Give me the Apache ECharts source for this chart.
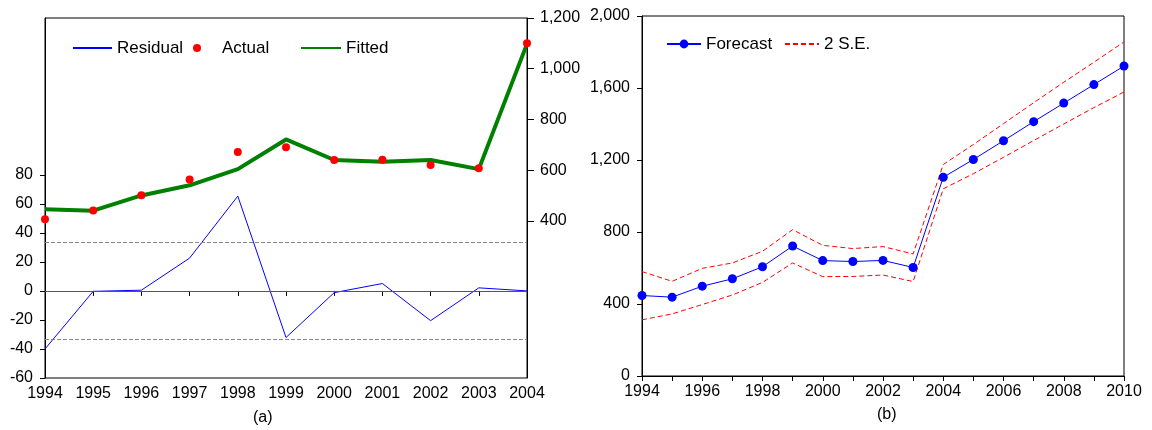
<!DOCTYPE html>
<html>

<head>
	<meta charset="utf-8">
	<title>Residual / Forecast</title>
	<script src="https://cdn.jsdelivr.net/npm/echarts@6/dist/echarts.min.js"></script>
	<style>
		html, body { margin: 0; padding: 0; background: #fff; }
		#main { width: 1152px; height: 430px; }
	</style>
</head>

<body>
	<div id="main"></div>
	<script>
		// (a) 拟合与残差
		var yearsA = ['1994', '1995', '1996', '1997', '1998', '1999', '2000', '2001', '2002', '2003', '2004'];
		var residual = [-40, -0.3, 0.5, 22.6, 65.3, -32.1, -1.2, 5.1, -20.5, 2.1, 0];
		var actual = [406, 441, 501, 563, 671, 690, 640, 641, 620, 607, 1100];
		var fitted = [446, 440, 500, 540, 604, 721, 640, 633, 640, 604, 1098];
		var seBand = 33.5;
		var residTicks = [-60, -40, -20, 0, 20, 40, 60, 80];
		var levelTicks = [400, 600, 800, 1000, 1200];

		// (b) 预测
		var yearsB = ['1994', '1995', '1996', '1997', '1998', '1999', '2000', '2001', '2002',
			'2003', '2004', '2005', '2006', '2007', '2008', '2009', '2010'];
		var forecast = [447, 438, 499, 540, 607, 722, 641, 636, 642, 603, 1104, 1203, 1307, 1413, 1516, 1619, 1722];
		var upper = [580, 526, 598, 628, 693, 813, 726, 708, 719, 678, 1175, 1286, 1402, 1518, 1632, 1743, 1856];
		var lower = [312, 345, 397, 450, 520, 628, 552, 553, 561, 525, 1040, 1124, 1215, 1308, 1400, 1491, 1578];

		var FONT = 'Liberation Sans';
		var axisColor = '#000';
		var legendText = { fontSize: 17, lineHeight: 18, fontFamily: FONT, color: '#000' };

		function comma(v) {
			return Number(v).toLocaleString('en-US');
		}

		var myChart = echarts.init(document.getElementById('main'));
		var option = {
			animation: false,
			textStyle: { fontFamily: FONT, color: '#000' },
			title: [
				{ text: '(a)', left: 253, top: 410, padding: 0, textStyle: { fontSize: 16, fontWeight: 'normal', color: '#000', fontFamily: FONT } },
				{ text: '(b)', left: 877, top: 407, padding: 0, textStyle: { fontSize: 16, fontWeight: 'normal', color: '#000', fontFamily: FONT } }
			],
			// 只画线的图例把圆点隐藏
			legend: [
				{ data: ['Residual'], left: 72, top: 39, padding: 0, itemWidth: 39, itemHeight: 14, itemStyle: { opacity: 0 }, textStyle: legendText },
				{ data: [{ name: 'Actual', icon: 'circle' }], left: 193, top: 39, padding: 0, itemWidth: 40, itemHeight: 8, textStyle: legendText },
				{ data: ['Fitted'], left: 300, top: 39, padding: 0, itemWidth: 40, itemHeight: 14, itemStyle: { opacity: 0 }, textStyle: legendText },
				{ data: ['Forecast'], left: 666, top: 35, padding: 0, itemWidth: 34, itemHeight: 11, textStyle: legendText },
				{ data: ['2 S.E.'], left: 784, top: 35, padding: 0, itemWidth: 34, itemHeight: 14, itemStyle: { opacity: 0 }, textStyle: legendText }
			],
			grid: [
				{ left: 45, top: 18, right: 625, bottom: 52, show: true, borderColor: axisColor, borderWidth: 1 },
				{ left: 642, top: 16, right: 28, bottom: 54, show: true, borderColor: axisColor, borderWidth: 1 }
			],
			xAxis: [{
				gridIndex: 0,
				type: 'category',
				boundaryGap: false,
				data: yearsA,
				axisLine: { lineStyle: { color: axisColor } },
				axisTick: { interval: 0, length: 5, lineStyle: { color: axisColor } },
				axisLabel: { interval: 0, margin: 8, fontSize: 16, color: '#000' }
			}, {
				gridIndex: 1,
				type: 'category',
				boundaryGap: false,
				data: yearsB,
				axisLine: { lineStyle: { color: axisColor } },
				axisTick: { interval: 0, length: 5, lineStyle: { color: axisColor } },
				axisLabel: { interval: 1, margin: 8, fontSize: 16, color: '#000' }
			}],
			yAxis: [{
				gridIndex: 0,
				type: 'value',
				min: -60,
				max: 188,
				splitLine: { show: false },
				axisLine: { show: true, lineStyle: { color: axisColor } },
				axisTick: { show: true, length: 5, customValues: residTicks, lineStyle: { color: axisColor } },
				axisLabel: { margin: 12, fontSize: 16, color: '#000', customValues: residTicks }
			}, {
				gridIndex: 0,
				type: 'value',
				position: 'right',
				min: -220,
				max: 1200,
				splitLine: { show: false },
				axisLine: { show: true, lineStyle: { color: axisColor } },
				axisTick: { show: true, length: 7, customValues: levelTicks, lineStyle: { color: axisColor } },
				axisLabel: { margin: 13, fontSize: 16, color: '#000', customValues: levelTicks, formatter: comma }
			}, {
				gridIndex: 1,
				type: 'value',
				min: 0,
				max: 2000,
				interval: 400,
				splitLine: { show: false },
				axisLine: { show: true, lineStyle: { color: axisColor } },
				axisTick: { show: true, length: 5, lineStyle: { color: axisColor } },
				axisLabel: { margin: 12, fontSize: 16, color: '#000', formatter: comma }
			}],
			series: [{
				name: 'Residual',
				type: 'line',
				xAxisIndex: 0,
				yAxisIndex: 0,
				data: residual,
				symbol: 'none',
				color: '#0000ff',
				lineStyle: { width: 1, color: '#0000ff' },
				markLine: {
					silent: true,
					symbol: ['none', 'none'],
					label: { show: false },
					data: [
						{ yAxis: 0, lineStyle: { type: 'solid', color: '#555', width: 1 } },
						{ yAxis: seBand, lineStyle: { type: [4, 2], color: '#888', width: 1 } },
						{ yAxis: -seBand, lineStyle: { type: [4, 2], color: '#888', width: 1 } }
					]
				}
			}, {
				name: 'Fitted',
				type: 'line',
				xAxisIndex: 0,
				yAxisIndex: 1,
				data: fitted,
				symbol: 'none',
				color: '#008000',
				lineStyle: { width: 4, color: '#008000' }
			}, {
				name: 'Actual',
				type: 'scatter',
				xAxisIndex: 0,
				yAxisIndex: 1,
				data: actual,
				symbol: 'circle',
				symbolSize: 8,
				z: 5,
				color: '#ff0000',
				itemStyle: { color: '#ff0000', opacity: 1 }
			}, {
				name: '2 S.E.',
				type: 'line',
				xAxisIndex: 1,
				yAxisIndex: 2,
				data: upper,
				symbol: 'none',
				color: '#ff0000',
				lineStyle: { width: 1, type: [5, 3], color: '#ff0000' }
			}, {
				name: '2 S.E.',
				type: 'line',
				xAxisIndex: 1,
				yAxisIndex: 2,
				data: lower,
				symbol: 'none',
				color: '#ff0000',
				lineStyle: { width: 1, type: [5, 3], color: '#ff0000' }
			}, {
				name: 'Forecast',
				type: 'line',
				xAxisIndex: 1,
				yAxisIndex: 2,
				data: forecast,
				symbol: 'circle',
				symbolSize: 9,
				showAllSymbol: true,
				z: 5,
				color: '#0000ff',
				itemStyle: { color: '#0000ff' },
				lineStyle: { width: 1, color: '#0000ff' }
			}]
		};
		myChart.setOption(option);
	</script>

</body>

</html>
